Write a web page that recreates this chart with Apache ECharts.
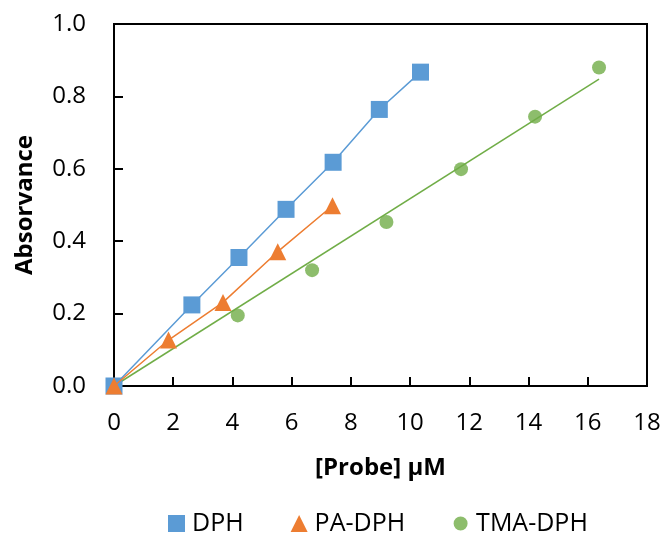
<!DOCTYPE html>
<html>
<head>
<meta charset="utf-8">
<script src="https://cdn.jsdelivr.net/npm/echarts@6/dist/echarts.min.js"></script>
<style>
html,body{margin:0;padding:0;background:#fff;}
#chart{width:664px;height:533px;}
</style>
</head>
<body>
<div id="chart"></div>
<script>
// Data
const dphX = [0, 2.63, 4.22, 5.81, 7.40, 8.96, 10.35];
const dphY = [0, 0.224, 0.355, 0.488, 0.618, 0.764, 0.867];
const paX = [0, 1.84, 3.68, 5.53, 7.38];
const paY = [0, 0.127, 0.231, 0.371, 0.498];
const tmaX = [4.18, 6.69, 9.20, 11.72, 14.22, 16.38];
const tmaY = [0.195, 0.320, 0.453, 0.599, 0.744, 0.880];
// Linear trendline for TMA-DPH (endpoints)
const tmaFitX = [0, 16.38];
const tmaFitY = [0, 0.848];
const xTicks = [0, 2, 4, 6, 8, 10, 12, 14, 16, 18];
const yTicks = [0.0, 0.2, 0.4, 0.6, 0.8, 1.0];

const pairs = (xs, ys) => xs.map((x, i) => [x, ys[i]]);

const FONT = 'Open Sans';
// small circle inside a 17x17 box for the legend icon
const smallCircle = 'path://M0,0M17,17M8.5,1.5A7,7 0 1 1 8.49,1.5Z';
const chart = echarts.init(document.getElementById('chart'), null, {renderer: 'canvas'});
chart.setOption({
  animation: false,
  backgroundColor: '#fff',
  textStyle: {fontFamily: FONT},
  grid: {left: 114, right: 17, top: 24, bottom: 147, show: true, borderColor: '#000', borderWidth: 2, containLabel: false},
  xAxis: {
    type: 'value', min: xTicks[0], max: xTicks[xTicks.length - 1], interval: 2,
    name: '[Probe] µM', nameLocation: 'middle', nameGap: 70,
    nameTextStyle: {fontFamily: FONT, fontSize: 24, fontWeight: 'bold', color: '#000', lineHeight: 24},
    axisLine: {show: true, onZero: false, lineStyle: {color: '#000', width: 2}},
    axisTick: {show: true, inside: true, length: 9, lineStyle: {color: '#000', width: 2}},
    axisLabel: {fontFamily: FONT, fontSize: 24, color: '#000', margin: 25, lineHeight: 24},
    splitLine: {show: false}
  },
  yAxis: {
    type: 'value', min: yTicks[0], max: yTicks[yTicks.length - 1], interval: 0.2,
    name: 'Absorvance', nameLocation: 'middle', nameGap: 77, nameRotate: 90,
    nameTextStyle: {fontFamily: FONT, fontSize: 24, fontWeight: 'bold', color: '#000', lineHeight: 24},
    axisLine: {show: true, onZero: false, lineStyle: {color: '#000', width: 2}},
    axisTick: {show: true, inside: true, length: 9, lineStyle: {color: '#000', width: 2}},
    axisLabel: {fontFamily: FONT, fontSize: 24, color: '#000', margin: 28, formatter: v => v.toFixed(1)},
    splitLine: {show: false}
  },
  legend: {
    left: 168, top: 511, padding: 0, itemGap: 47, itemWidth: 17, itemHeight: 17,
    textStyle: {fontFamily: FONT, fontSize: 25, color: '#000', padding: [0, 0, 0, 2]},
    data: [
      {name: 'DPH', icon: 'rect'},
      {name: 'PA-DPH', icon: 'triangle'},
      {name: 'TMA-DPH', icon: smallCircle}
    ]
  },
  series: [
    {
      name: 'TMA-DPH fit', type: 'line', data: pairs(tmaFitX, tmaFitY), showSymbol: false, symbol: 'none',
      lineStyle: {color: '#70AD47', width: 1.5}, z: 1, silent: true
    },
    {
      name: 'TMA-DPH', type: 'scatter', data: pairs(tmaX, tmaY), symbol: 'circle', symbolSize: 14,
      itemStyle: {color: '#70AD47'}, z: 2
    },
    {
      name: 'DPH', type: 'line', data: pairs(dphX, dphY), symbol: 'rect', symbolSize: 17,
      showAllSymbol: true, lineStyle: {color: '#5B9BD5', width: 1.5},
      itemStyle: {color: '#5B9BD5', borderWidth: 0}, z: 3
    },
    {
      name: 'PA-DPH', type: 'line', data: pairs(paX, paY), symbol: 'triangle', symbolSize: 17,
      showAllSymbol: true, lineStyle: {color: '#ED7D31', width: 1.5},
      itemStyle: {color: '#ED7D31', borderWidth: 0}, z: 4
    }
  ]
});
</script>
</body>
</html>
